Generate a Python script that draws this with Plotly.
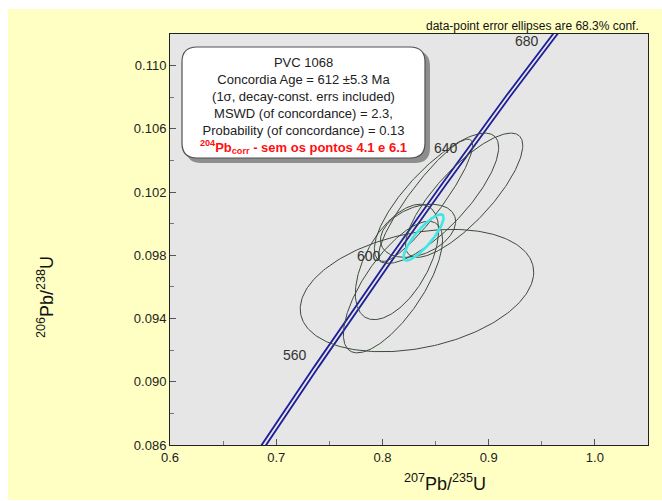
import numpy as np
import plotly.graph_objects as go

# ---------------- data ----------------
# data-point error ellipses (center, 1-sigma-ish half widths, correlation)
ell_cx = [0.8325, 0.8137, 0.8099, 0.8335, 0.8406, 0.8509, 0.8769]
ell_cy = [0.09577, 0.09758, 0.09599, 0.09955, 0.10148, 0.10161, 0.10180]
ell_sx = [0.1099, 0.0392, 0.0467, 0.0354, 0.0443, 0.0585, 0.0552]
ell_sy = [0.00387, 0.00365, 0.00416, 0.00168, 0.00387, 0.00412, 0.00393]
ell_rho = [0.30, 0.55, 0.72, 0.35, 0.90, 0.78, 0.80]

# concordia-age ellipse
age_cx, age_cy, age_sx, age_sy, age_rho = 0.8387, 0.09913, 0.0189, 0.00146, 0.85

# concordia age labels (Ma)
age_ticks = [560, 600, 640, 680]
age_label_dy = [15, 7, 7, 5]   # label offsets (px, upward)

x_ticks = [0.6, 0.7, 0.8, 0.9, 1.0]
y_ticks = [0.086, 0.090, 0.094, 0.098, 0.102, 0.106, 0.110]

box_lines = [
    "PVC 1068",
    "Concordia Age = 612 ±5.3 Ma",
    "(1σ, decay-const. errs included)",
    "MSWD (of concordance) = 2.3,",
    "Probability (of concordance) = 0.13",
]
box_red = "<sup>204</sup>Pb<sub>corr</sub> - sem os pontos 4.1 e 6.1"

# decay constants (1/yr)
L238 = 1.55125e-10
L235 = 9.8485e-10

# ---------------- geometry helpers ----------------
PL, PR, PT, PB = 170, 648, 34, 445  # plot area in px
W, H = 662, 501


def px2paper_x(px):
    return (px - PL) / (PR - PL)


def py2paper_y(py):
    return (PB - py) / (PB - PT)


def ellipse(cx, cy, sx, sy, rho, n=240):
    t = np.linspace(0, 2 * np.pi, n)
    x = cx + sx * np.cos(t)
    y = cy + sy * (rho * np.cos(t) + np.sqrt(1 - rho ** 2) * np.sin(t))
    return x, y


fig = go.Figure()

# concordia curve (double line = decay-constant band)
tt = np.linspace(500e6, 720e6, 400)
c206 = np.exp(L238 * tt) - 1
c207 = np.exp(L235 * tt) - 1
for off in (-0.0021, 0.0021):
    fig.add_trace(go.Scatter(x=c207 + off, y=c206, mode="lines",
                             line=dict(color="#1e1e9a", width=1.8),
                             hoverinfo="skip", showlegend=False))

# data-point ellipses
for cx, cy, sx, sy, r in zip(ell_cx, ell_cy, ell_sx, ell_sy, ell_rho):
    ex, ey = ellipse(cx, cy, sx, sy, r)
    fig.add_trace(go.Scatter(x=ex, y=ey, mode="lines",
                             line=dict(color="#3c4a3c", width=1),
                             hoverinfo="skip", showlegend=False))

# concordia age ellipse
ex, ey = ellipse(age_cx, age_cy, age_sx, age_sy, age_rho)
fig.add_trace(go.Scatter(x=ex, y=ey, mode="lines",
                         line=dict(color="#40e6e6", width=2.6),
                         hoverinfo="skip", showlegend=False))

annotations = []
# age labels on concordia
for a, dy in zip(age_ticks, age_label_dy):
    ax = np.exp(L235 * a * 1e6) - 1
    ay = np.exp(L238 * a * 1e6) - 1
    annotations.append(dict(x=ax, y=ay, xref="x", yref="y", text=str(a),
                            showarrow=False, xanchor="right", yanchor="middle",
                            xshift=-5, yshift=dy,
                            font=dict(family="Liberation Sans, Arial", size=14, color="#333333")))

# text box
text = "<br>".join(box_lines) + "<br><span style='color:#ff1010'><b>" + box_red + "</b></span>"
annotations.append(dict(x=px2paper_x(303.5), y=py2paper_y(105), xref="paper", yref="paper",
                        text=text, showarrow=False, xanchor="center", yanchor="middle",
                        align="center",
                        font=dict(family="Liberation Sans, Arial", size=13, color="#222222")))

# top note
annotations.append(dict(x=px2paper_x(641), y=py2paper_y(26), xref="paper", yref="paper",
                        text="data-point error ellipses are 68.3% conf.", showarrow=False,
                        xanchor="right", yanchor="middle",
                        font=dict(family="Liberation Sans, Arial", size=12, color="#111111")))

# axis titles
annotations.append(dict(x=px2paper_x(445), y=py2paper_y(482), xref="paper", yref="paper",
                        text="<sup>207</sup>Pb/<sup>235</sup>U", showarrow=False,
                        xanchor="center", yanchor="middle",
                        font=dict(family="Liberation Sans, Arial", size=18, color="#111111")))
annotations.append(dict(x=px2paper_x(45), y=py2paper_y(297), xref="paper", yref="paper",
                        text="<sup>206</sup>Pb/<sup>238</sup>U", showarrow=False, textangle=-90,
                        xanchor="center", yanchor="middle",
                        font=dict(family="Liberation Sans, Arial", size=18, color="#111111")))


def rounded_path(x0, y0, x1, y1, r):
    # px coords (y down) -> paper path with quadratic corners
    def P(px, py):
        return f"{px2paper_x(px):.5f},{py2paper_y(py):.5f}"
    return (f"M {P(x0 + r, y0)} L {P(x1 - r, y0)} Q {P(x1, y0)} {P(x1, y0 + r)} "
            f"L {P(x1, y1 - r)} Q {P(x1, y1)} {P(x1 - r, y1)} "
            f"L {P(x0 + r, y1)} Q {P(x0, y1)} {P(x0, y1 - r)} "
            f"L {P(x0, y0 + r)} Q {P(x0, y0)} {P(x0 + r, y0)} Z")


shapes = [
    # yellow page background
    dict(type="rect", xref="paper", yref="paper", layer="below",
         x0=px2paper_x(8), x1=px2paper_x(670), y0=py2paper_y(500), y1=py2paper_y(9),
         fillcolor="#ffffc4", line=dict(width=0)),
    # gray plot background
    dict(type="rect", xref="paper", yref="paper", layer="below",
         x0=0, x1=1, y0=0, y1=1, fillcolor="#e6e6e6", line=dict(width=0)),
    # box shadow
    dict(type="path", xref="paper", yref="paper", layer="above",
         path=rounded_path(186, 51, 430, 163, 15), fillcolor="#8e8e8e", line=dict(width=0)),
    # box
    dict(type="path", xref="paper", yref="paper", layer="above",
         path=rounded_path(182, 47, 425, 158, 15), fillcolor="#ffffff",
         line=dict(color="#505050", width=1.2)),
]

axis_font = dict(family="Liberation Sans, Arial", size=13, color="#222222")

fig.update_layout(
    width=W, height=H,
    margin=dict(l=PL, r=W - PR, t=PT, b=H - PB, pad=0),
    paper_bgcolor="#ffffff",
    plot_bgcolor="rgba(0,0,0,0)",
    showlegend=False,
    annotations=annotations,
    shapes=shapes,
    xaxis=dict(range=[0.6, 1.05], tickvals=x_ticks, ticktext=[f"{v:.1f}" for v in x_ticks],
               ticks="inside", ticklen=6, tickcolor="#555555",
               minor=dict(dtick=0.05, tick0=0.6, ticks="inside", ticklen=4, tickcolor="#777777"),
               showgrid=False, zeroline=False, showline=True, mirror=True,
               linecolor="#222222", linewidth=1, tickfont=axis_font),
    yaxis=dict(range=[0.086, 0.112], tickvals=y_ticks, ticktext=[f"{v:.3f}" for v in y_ticks],
               ticks="inside", ticklen=6, tickcolor="#555555",
               minor=dict(dtick=0.002, tick0=0.086, ticks="inside", ticklen=4, tickcolor="#777777"),
               showgrid=False, zeroline=False, showline=True, mirror=True,
               linecolor="#222222", linewidth=1, tickfont=axis_font),
)

fig.write_html("out.html")
